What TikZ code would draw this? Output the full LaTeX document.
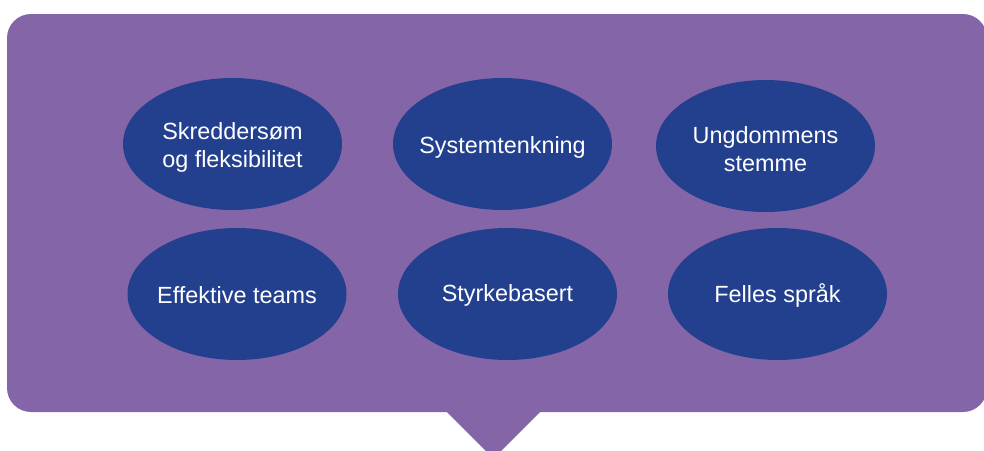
\documentclass[tikz,border=0pt]{standalone}
\usepackage{fontspec}
\setmainfont{Liberation Sans}
\usetikzlibrary{shapes.geometric}
\definecolor{bgpurple}{RGB}{132,102,168}
\definecolor{ovalblue}{RGB}{35,64,143}
\tikzset{
  oval/.style={ellipse, fill=ovalblue, draw=none, minimum width=219pt, minimum height=132pt,
    inner sep=0pt},
  ovaltext/.style={inner sep=0pt, text=white, align=center,
    font=\fontsize{23.4}{28}\selectfont}
}
\begin{document}
\begin{tikzpicture}[x=1pt,y=-1pt]
\useasboundingbox (0,0) rectangle (984,450);
\fill[bgpurple, rounded corners=24pt] (7,14) rectangle (987,412);
\fill[bgpurple] (446,411) -- (541,411) -- (493.5,458.5) -- cycle;
\node[oval] (n1) at (232.5,144) {};
\node[oval] (n2) at (502.5,144) {};
\node[oval] (n3) at (765.5,146) {};
\node[oval] (n4) at (237,294) {};
\node[oval] (n5) at (507.5,294) {};
\node[oval] (n6) at (777.5,294) {};
\node[ovaltext] (t1) at ([yshift=-3pt]n1.center) {Skreddersøm\\og fleksibilitet};
\node[ovaltext] (t2) at ([yshift=-3pt]n2.center) {Systemtenkning};
\node[ovaltext] (t3) at ([yshift=-3pt]n3.center) {Ungdommens\\stemme};
\node[ovaltext] (t4) at ([yshift=-1pt]n4.center) {Effektive teams};
\node[ovaltext] (t5) at ([yshift=-1pt]n5.center) {Styrkebasert};
\node[ovaltext] (t6) at ([yshift=-1pt]n6.center) {Felles språk};
\end{tikzpicture}
\end{document}
